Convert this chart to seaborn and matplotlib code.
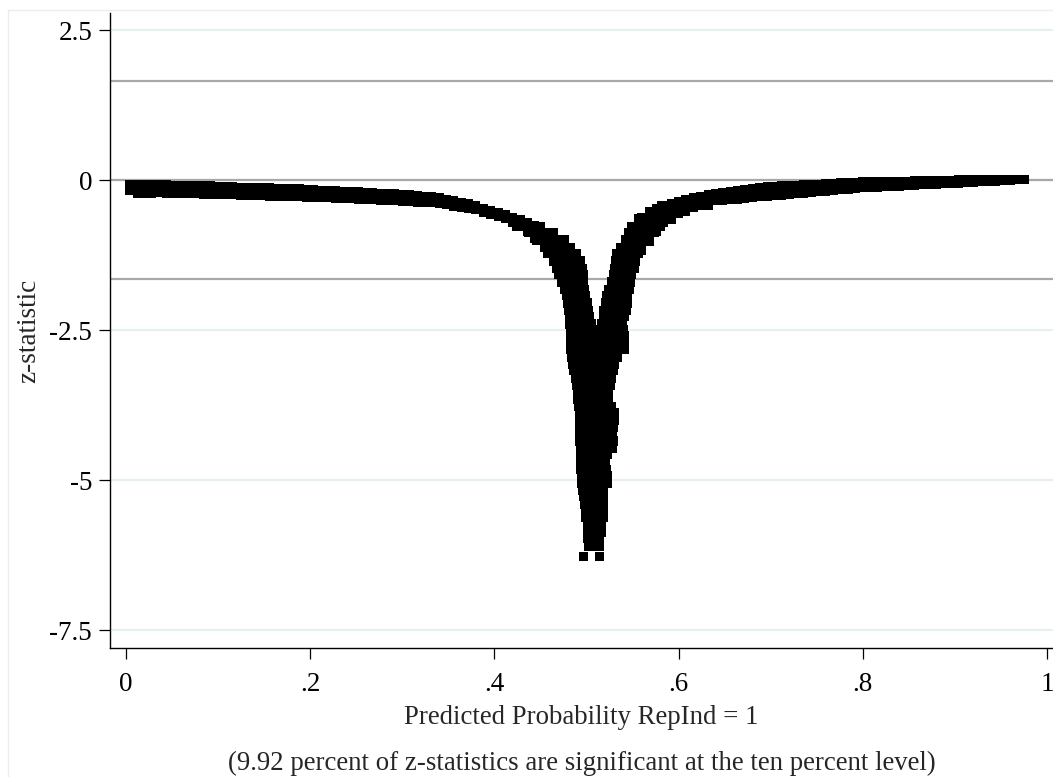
import matplotlib
matplotlib.use("Agg")
import matplotlib.pyplot as plt
import matplotlib.patches as mpatches
import seaborn as sns
import numpy as np
import pandas as pd

# ---------------- data ----------------
# left flat part of the band
left_x = [0.004, 0.012, 0.020, 0.028, 0.036, 0.044, 0.052, 0.060, 0.068, 0.076,
          0.084, 0.092, 0.100, 0.108, 0.116, 0.124, 0.132, 0.140, 0.148, 0.156,
          0.164, 0.172, 0.180, 0.188, 0.196, 0.204, 0.212, 0.220, 0.228, 0.236,
          0.244, 0.252, 0.260, 0.268, 0.276, 0.284, 0.292, 0.300, 0.308, 0.316,
          0.324, 0.332, 0.340, 0.348, 0.356, 0.364, 0.372, 0.380, 0.388, 0.396,
          0.404, 0.412, 0.420, 0.428, 0.436, 0.444]
left_upper_z = [-0.068, -0.070, -0.073, -0.077, -0.079, -0.082, -0.085, -0.088, -0.090, -0.093,
                -0.097, -0.100, -0.105, -0.108, -0.112, -0.117, -0.121, -0.125, -0.128, -0.133,
                -0.137, -0.142, -0.145, -0.150, -0.155, -0.162, -0.168, -0.173, -0.180, -0.187,
                -0.192, -0.198, -0.205, -0.210, -0.217, -0.223, -0.228, -0.237, -0.247, -0.258,
                -0.268, -0.280, -0.290, -0.317, -0.343, -0.372, -0.400, -0.432, -0.470, -0.508,
                -0.545, -0.583, -0.623, -0.663, -0.703, -0.758]
left_lower_z = [-0.172, -0.225, -0.222, -0.218, -0.215, -0.218, -0.221, -0.225, -0.228, -0.231,
                -0.235, -0.238, -0.242, -0.246, -0.249, -0.253, -0.257, -0.262, -0.265, -0.268,
                -0.272, -0.275, -0.280, -0.283, -0.287, -0.290, -0.295, -0.298, -0.302, -0.308,
                -0.313, -0.320, -0.325, -0.330, -0.337, -0.342, -0.347, -0.352, -0.360, -0.368,
                -0.375, -0.383, -0.390, -0.413, -0.435, -0.457, -0.477, -0.498, -0.535, -0.572,
                -0.607, -0.643, -0.702, -0.775, -0.858, -0.967]

# right flat part of the band
right_x = [0.560, 0.568, 0.576, 0.584, 0.592, 0.600, 0.608, 0.616, 0.624, 0.632,
           0.640, 0.648, 0.656, 0.664, 0.672, 0.680, 0.688, 0.696, 0.704, 0.712,
           0.720, 0.728, 0.736, 0.744, 0.752, 0.760, 0.768, 0.776, 0.784, 0.792,
           0.800, 0.808, 0.816, 0.824, 0.832, 0.840, 0.848, 0.856, 0.864, 0.872,
           0.880, 0.888, 0.896, 0.904, 0.912, 0.920, 0.928, 0.936, 0.944, 0.952,
           0.960, 0.968, 0.976]
right_upper_z = [-0.633, -0.558, -0.483, -0.430, -0.393, -0.358, -0.322, -0.300, -0.272, -0.250,
                 -0.227, -0.208, -0.190, -0.172, -0.153, -0.135, -0.117, -0.110, -0.105, -0.098,
                 -0.092, -0.087, -0.080, -0.073, -0.067, -0.062, -0.055, -0.048, -0.043, -0.037,
                 -0.033, -0.030, -0.028, -0.025, -0.023, -0.020, -0.018, -0.015, -0.012, -0.010,
                 -0.007, -0.005, -0.002, 0.000, 0.002, 0.003, 0.005, 0.007, 0.008, 0.010,
                 0.012, 0.013, 0.015]
right_lower_z = [-1.180, -1.020, -0.862, -0.713, -0.615, -0.553, -0.492, -0.450, -0.413, -0.375,
                 -0.347, -0.337, -0.327, -0.317, -0.305, -0.295, -0.283, -0.273, -0.262, -0.250,
                 -0.240, -0.228, -0.217, -0.207, -0.195, -0.185, -0.173, -0.162, -0.152, -0.140,
                 -0.132, -0.125, -0.118, -0.113, -0.107, -0.100, -0.095, -0.088, -0.082, -0.075,
                 -0.070, -0.063, -0.057, -0.052, -0.045, -0.038, -0.032, -0.023, -0.017, -0.010,
                 -0.003, 0.003, 0.012]
right_mid_x = [0.576, 0.584, 0.592, 0.600, 0.608, 0.616, 0.624, 0.632, 0.640, 0.648,
               0.656, 0.664, 0.672, 0.680, 0.688, 0.696, 0.704, 0.712, 0.720, 0.728,
               0.736, 0.744, 0.752]
right_mid_z = [-0.673, -0.572, -0.505, -0.457, -0.407, -0.373, -0.343, -0.313, -0.287, -0.273,
               -0.258, -0.245, -0.230, -0.215, -0.200, -0.192, -0.183, -0.175, -0.167, -0.158,
               -0.148, -0.140, -0.132]

# the dip: z level and the x positions of the points seen at that level
dip_z = [-0.417, -0.533, -0.650,
         -0.767, -0.883, -1.000, -1.117, -1.233, -1.350, -1.467, -1.583, -1.700,
         -1.817, -1.933, -2.050, -2.167, -2.283, -2.400,
         -2.500, -2.600, -2.717, -2.833, -2.950, -3.067, -3.183, -3.300, -3.417,
         -3.533, -3.650, -3.767, -3.883, -4.000, -4.117, -4.233, -4.350, -4.467,
         -4.583, -4.700, -4.817, -4.933, -5.050, -5.167, -5.283, -5.400, -5.517,
         -5.633, -5.750, -5.867, -5.983, -6.100, -6.270]
dip_x = [
    [0.581, 0.588, 0.596, 0.604, 0.611, 0.619, 0.626, 0.633],
    [0.568, 0.575, 0.583, 0.591, 0.598, 0.606, 0.608],
    [0.557, 0.565, 0.572, 0.580, 0.587, 0.592],
    [0.424, 0.431, 0.439, 0.446, 0.450, 0.549, 0.557, 0.565, 0.572, 0.580],
    [0.437, 0.444, 0.452, 0.459, 0.464, 0.546, 0.554, 0.561, 0.569, 0.574],
    [0.446, 0.454, 0.461, 0.469, 0.476, 0.542, 0.549, 0.557, 0.565, 0.568],
    [0.454, 0.461, 0.469, 0.477, 0.483, 0.537, 0.545, 0.553, 0.560],
    [0.458, 0.466, 0.473, 0.481, 0.489, 0.533, 0.541, 0.548, 0.556],
    [0.464, 0.471, 0.479, 0.486, 0.493, 0.531, 0.539, 0.546, 0.553],
    [0.467, 0.474, 0.482, 0.490, 0.496, 0.530, 0.537, 0.545, 0.552],
    [0.470, 0.478, 0.485, 0.493, 0.497, 0.529, 0.536, 0.544, 0.549],
    [0.473, 0.481, 0.489, 0.497, 0.527, 0.534, 0.542, 0.548],
    [0.476, 0.483, 0.491, 0.498, 0.524, 0.532, 0.540, 0.547],
    [0.478, 0.485, 0.493, 0.499, 0.522, 0.530, 0.537, 0.545],
    [0.479, 0.486, 0.494, 0.501, 0.521, 0.529, 0.536, 0.544],
    [0.480, 0.488, 0.495, 0.502, 0.519, 0.527, 0.534, 0.543],
    [0.482, 0.490, 0.497, 0.503, 0.518, 0.526, 0.533, 0.541],
    [0.482, 0.490, 0.497, 0.505, 0.516, 0.523, 0.531, 0.539],
    [0.483, 0.491, 0.498, 0.506, 0.514, 0.521, 0.529, 0.536, 0.540],
    [0.483, 0.491, 0.498, 0.506, 0.514, 0.521, 0.529, 0.536, 0.541],
    [0.483, 0.491, 0.498, 0.506, 0.514, 0.521, 0.529, 0.536, 0.541],
    [0.483, 0.491, 0.498, 0.506, 0.514, 0.521, 0.529, 0.536, 0.541],
    [0.484, 0.492, 0.499, 0.507, 0.515, 0.522, 0.530, 0.534],
    [0.485, 0.493, 0.501, 0.508, 0.516, 0.523, 0.530],
    [0.486, 0.494, 0.502, 0.509, 0.517, 0.524, 0.529],
    [0.488, 0.495, 0.503, 0.510, 0.518, 0.527],
    [0.489, 0.496, 0.504, 0.511, 0.519, 0.526],
    [0.490, 0.497, 0.505, 0.513, 0.520, 0.524],
    [0.490, 0.497, 0.505, 0.513, 0.520, 0.524],
    [0.491, 0.498, 0.506, 0.514, 0.521, 0.527],
    [0.492, 0.500, 0.507, 0.515, 0.522, 0.530],
    [0.492, 0.500, 0.507, 0.515, 0.522, 0.530],
    [0.492, 0.500, 0.507, 0.515, 0.522, 0.529],
    [0.492, 0.500, 0.507, 0.515, 0.522, 0.528],
    [0.492, 0.500, 0.507, 0.515, 0.522, 0.529],
    [0.493, 0.501, 0.508, 0.516, 0.523, 0.528],
    [0.493, 0.501, 0.508, 0.516, 0.523],
    [0.494, 0.502, 0.509, 0.517, 0.521],
    [0.494, 0.502, 0.509, 0.517, 0.522],
    [0.495, 0.503, 0.510, 0.518, 0.523],
    [0.495, 0.503, 0.510, 0.518, 0.523],
    [0.496, 0.504, 0.511, 0.519],
    [0.497, 0.505, 0.513, 0.519],
    [0.498, 0.506, 0.514, 0.519],
    [0.499, 0.507, 0.515, 0.518],
    [0.499, 0.507, 0.515, 0.518],
    [0.501, 0.508, 0.516],
    [0.501, 0.508, 0.516],
    [0.501, 0.508, 0.514],
    [0.502, 0.508, 0.514],
    [0.497, 0.514],
]

ref_lines = [1.645, 0.0, -1.645]
y_ticks = [2.5, 0, -2.5, -5, -7.5]
y_tick_labels = ["2.5", "0", "-2.5", "-5", "-7.5"]
x_ticks = [0, 0.2, 0.4, 0.6, 0.8, 1]
x_tick_labels = ["0", ".2", ".4", ".6", ".8", "1"]
x_title = "Predicted Probability RepInd = 1"
y_title = "z-statistic"
note = "(9.92 percent of z-statistics are significant at the ten percent level)"

# ---------------- assemble ----------------
xs = list(left_x) + list(left_x) + list(right_x) + list(right_x) + list(right_mid_x)
zs = list(left_upper_z) + list(left_lower_z) + list(right_upper_z) + list(right_lower_z) + list(right_mid_z)
for zl, row in zip(dip_z, dip_x):
    xs += row
    zs += [zl] * len(row)
df = pd.DataFrame({"p": xs, "z": zs})

# ---------------- plot ----------------
sns.set_style("ticks")
plt.rcParams["font.family"] = ["Liberation Serif", "DejaVu Serif"]

W, H = 1053, 777
fig = plt.figure(figsize=(W / 100, H / 100), dpi=100)
fig.patch.set_facecolor("white")

# light outer border of the graph region
fig.patches.append(mpatches.Rectangle((8 / W, -0.05), 1.2, 1 - 10 / H + 0.05,
                                      transform=fig.transFigure, fill=False,
                                      edgecolor="#ececec", linewidth=1.0))

ax = fig.add_axes([110 / W, 1 - 648 / H, (W - 110) / W, (648 - 13) / H])
ax.set_facecolor("white")

for g in y_ticks:
    ax.axhline(g, color="#e6eff1", linewidth=1.6, zorder=0)
for r in ref_lines:
    ax.axhline(r, color="#a8a8a8", linewidth=1.6, zorder=1)

sns.scatterplot(data=df, x="p", y="z", ax=ax, marker="s", s=42, color="black",
                linewidth=0, edgecolor="none", zorder=3, legend=False)

ax.set_xlim((110 - 126) / 921, (W - 126) / 921)
ax.set_ylim(-7.8, (180 - 13) / 60)

ax.set_xticks(x_ticks)
ax.set_xticklabels(x_tick_labels)
ax.set_yticks(y_ticks)
ax.set_yticklabels(y_tick_labels)
ax.tick_params(axis="both", direction="out", length=7.8, width=0.9, color="black",
               labelsize=19.5, labelcolor="black")
ax.tick_params(axis="x", pad=9.5)
ax.tick_params(axis="y", pad=5, labelrotation=0)

for s in ["top", "right"]:
    ax.spines[s].set_visible(False)
for s in ["left", "bottom"]:
    ax.spines[s].set_color("black")
    ax.spines[s].set_linewidth(1.0)

ax.set_xlabel(x_title, fontsize=19.3)
ax.xaxis.set_label_coords(0.5, (648 - 717) / 635)
ax.xaxis.label.set_va("center")
ax.set_ylabel(y_title, fontsize=19.6)
ax.yaxis.set_label_coords((28.5 - 110) / 943, 0.5)
ax.yaxis.label.set_va("center")

ax.text(0.5, (648 - 763) / 635, note, transform=ax.transAxes, ha="center",
        va="center", fontsize=19.3)

fig.savefig("out.png", dpi=100, facecolor="white")
